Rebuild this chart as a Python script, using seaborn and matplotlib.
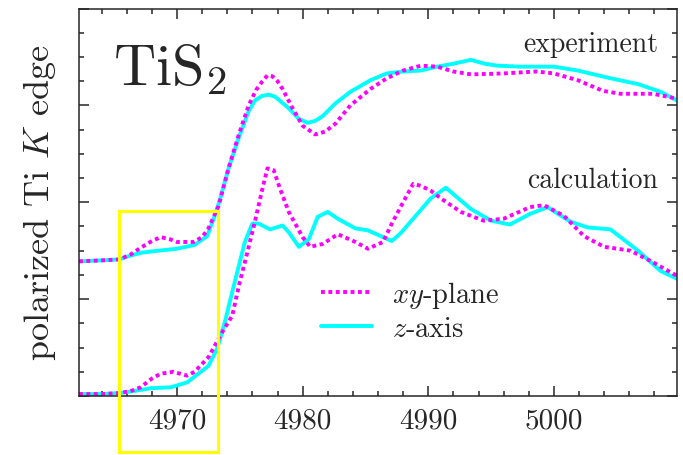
#!/usr/bin/env python3

"""
Polarized Ti K edge of TiS2: experiment vs calculation
"""

import pandas as pd
import seaborn as sns
import matplotlib.pyplot as plt
from matplotlib.patches import Rectangle
from matplotlib.ticker import MultipleLocator

# experiment, z-axis (offset upward in the figure)
exp_z_energy = [4962.2, 4964.0, 4965.4, 4966.3, 4967.2, 4968.5, 4970.0, 4971.4, 4972.4, 4973.0,
                4973.4, 4974.1, 4974.9, 4975.7, 4976.2, 4976.8, 4977.3, 4977.8, 4978.9, 4979.7,
                4980.4, 4981.0, 4981.6, 4982.6, 4983.8, 4985.4, 4986.7, 4988.0, 4989.4, 4990.7,
                4992.0, 4993.4, 4994.5, 4995.5, 4997.3, 5000.0, 5001.9, 5004.5, 5006.7, 5008.5,
                5009.8]
exp_z = [1.39, 1.40, 1.41, 1.45, 1.48, 1.50, 1.52, 1.56, 1.65, 1.86,
         2.02, 2.35, 2.66, 2.94, 3.05, 3.10, 3.11, 3.09, 2.97, 2.86,
         2.82, 2.84, 2.89, 3.02, 3.14, 3.26, 3.33, 3.35, 3.36, 3.40,
         3.43, 3.47, 3.43, 3.41, 3.40, 3.40, 3.36, 3.28, 3.22, 3.14,
         3.05]

# experiment, xy-plane
exp_xy_energy = [4962.2, 4964.0, 4965.4, 4966.3, 4967.1, 4968.0, 4968.7, 4969.4, 4970.0, 4971.3,
                 4972.0, 4972.5, 4973.3, 4974.1, 4974.9, 4975.7, 4976.3, 4976.8, 4977.2, 4977.6,
                 4978.0, 4978.4, 4979.2, 4980.0, 4981.0, 4981.8, 4982.6, 4983.8, 4985.4, 4986.7,
                 4988.0, 4989.4, 4990.7, 4992.0, 4993.4, 4996.0, 4998.6, 5000.0, 5001.9, 5003.9,
                 5005.3, 5007.9, 5009.8]
exp_xy = [1.39, 1.40, 1.41, 1.46, 1.53, 1.60, 1.64, 1.62, 1.59, 1.59,
          1.64, 1.73, 1.96, 2.35, 2.69, 3.00, 3.16, 3.25, 3.31, 3.30,
          3.25, 3.17, 2.97, 2.79, 2.70, 2.73, 2.81, 3.00, 3.17, 3.28,
          3.36, 3.41, 3.40, 3.35, 3.32, 3.33, 3.35, 3.33, 3.26, 3.15,
          3.12, 3.12, 3.07]

# calculation, z-axis
calc_z_energy = [4962.2, 4964.0, 4965.4, 4966.5, 4967.9, 4969.5, 4970.8, 4971.5, 4972.5, 4973.2,
                 4973.8, 4974.6, 4975.4, 4976.0, 4976.5, 4977.4, 4978.4, 4978.9, 4979.7, 4980.5,
                 4981.2, 4982.0, 4982.8, 4984.2, 4985.2, 4986.4, 4987.1, 4987.8, 4988.6, 4990.2,
                 4991.4, 4993.4, 4995.0, 4996.5, 4998.1, 4999.5, 5001.3, 5002.7, 5004.5, 5006.7,
                 5008.5, 5009.8]
calc_z = [0.02, 0.02, 0.03, 0.05, 0.08, 0.09, 0.14, 0.21, 0.31, 0.49,
          0.76, 1.18, 1.59, 1.78, 1.78, 1.72, 1.76, 1.69, 1.54, 1.62,
          1.85, 1.90, 1.83, 1.73, 1.71, 1.64, 1.60, 1.68, 1.80, 2.04,
          2.15, 1.93, 1.81, 1.77, 1.88, 1.95, 1.80, 1.74, 1.72, 1.50,
          1.29, 1.21]

# calculation, xy-plane
calc_xy_energy = [4962.2, 4964.0, 4965.4, 4966.3, 4967.1, 4968.0, 4968.7, 4969.7, 4970.8, 4971.4,
                  4972.5, 4973.6, 4974.4, 4975.0, 4975.4, 4976.2, 4976.8, 4977.2, 4977.7, 4978.2,
                  4978.9, 4980.0, 4980.6, 4981.6, 4982.8, 4984.2, 4985.2, 4986.4, 4987.1, 4988.0,
                  4988.8, 4989.4, 4990.2, 4991.0, 4992.6, 4994.4, 4996.0, 4998.1, 4999.2, 5000.8,
                  5002.4, 5004.0, 5006.1, 5007.9, 5009.8]
calc_xy = [0.02, 0.02, 0.03, 0.05, 0.09, 0.18, 0.23, 0.25, 0.21, 0.25,
           0.40, 0.66, 0.83, 1.18, 1.38, 1.80, 2.14, 2.35, 2.33, 2.14,
           1.90, 1.64, 1.54, 1.57, 1.67, 1.59, 1.52, 1.59, 1.78, 2.00,
           2.19, 2.17, 2.12, 2.04, 1.90, 1.81, 1.83, 1.95, 1.97, 1.86,
           1.65, 1.54, 1.50, 1.38, 1.24]

xticks = [4970, 4980, 4990, 5000]
xtick_labels = ["4970", "4980", "4990", "5000"]
legend_labels = ["$xy$-plane", "$z$-axis"]

sns.set_style("ticks")
plt.rcParams['font.family'] = ['cmr10', 'DejaVu Serif']
plt.rcParams['mathtext.fontset'] = 'cm'
plt.rcParams['axes.unicode_minus'] = False

fig = plt.figure(figsize=(6.83, 4.56), dpi=100)
ax = fig.add_axes([0.1157, 0.1294, 0.8755, 0.8497])

cyan = "#00FFFF"
magenta = "#FF00FF"
dotted = (0, (1, 0.9))
lw = 2.8

# solid curves first, dotted drawn on top
for energy, signal in [(exp_z_energy, exp_z), (calc_z_energy, calc_z)]:
    df = pd.DataFrame({"energy": energy, "signal": signal})
    sns.lineplot(data=df, x="energy", y="signal", ax=ax, color=cyan,
                 linewidth=lw, estimator=None)
for energy, signal in [(exp_xy_energy, exp_xy), (calc_xy_energy, calc_xy)]:
    df = pd.DataFrame({"energy": energy, "signal": signal})
    sns.lineplot(data=df, x="energy", y="signal", ax=ax, color=magenta,
                 linewidth=lw, linestyle=dotted, estimator=None)

ax.set_xlim(4962.2, 5009.8)
ax.set_ylim(0, 4)

# axis ticks
ax.xaxis.set_minor_locator(MultipleLocator(2))
ax.yaxis.set_major_locator(MultipleLocator(1))
ax.yaxis.set_minor_locator(MultipleLocator(0.25))
ax.set_xticks(xticks)
ax.set_xticklabels(xtick_labels, fontsize=21)
ax.set_yticklabels([])
ax.tick_params(axis='both', which='both', direction='in', top=True, right=True,
               width=1.1, pad=8)
ax.tick_params(axis='both', which='major', length=7)
ax.tick_params(axis='both', which='minor', length=3.5)
for spine in ax.spines.values():
    spine.set_linewidth(1.1)

ax.set_xlabel("")
ax.set_ylabel("polarized Ti $K$ edge", fontsize=26, labelpad=7)

# annotations
ax.text(0.057, 0.805, "TiS$_2$", transform=ax.transAxes, fontsize=42, va='baseline')
ax.text(0.968, 0.890, "experiment", transform=ax.transAxes, fontsize=20,
        ha='right', va='baseline')
ax.text(0.968, 0.539, "calculation", transform=ax.transAxes, fontsize=20,
        ha='right', va='baseline')

# highlight pre-edge region
ax.add_patch(Rectangle((4965.4, -0.58), 7.9, 2.49, fill=False, edgecolor="#FFFF00",
                       linewidth=2.2, clip_on=False, zorder=5))

# legend
handles = [plt.Line2D([], [], color=magenta, linewidth=lw, linestyle=dotted),
           plt.Line2D([], [], color=cyan, linewidth=lw)]
ax.legend(handles, legend_labels, loc='center left', bbox_to_anchor=(0.405, 0.221),
          frameon=False, fontsize=20.5, handlelength=1.8, handletextpad=0.7,
          labelspacing=0.2, borderpad=0, borderaxespad=0)

plt.savefig("out.png", dpi=100)
